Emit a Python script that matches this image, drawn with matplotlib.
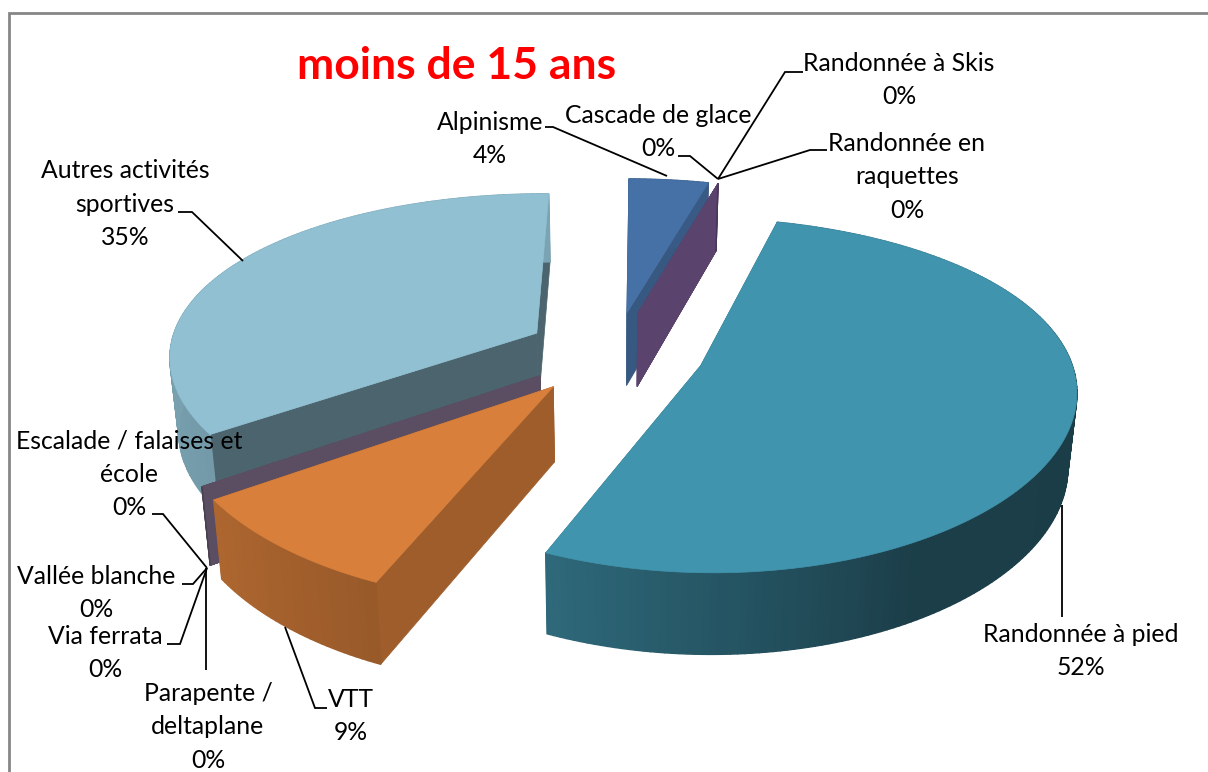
import numpy as np
import matplotlib
matplotlib.use("Agg")
import matplotlib.pyplot as plt
from matplotlib.patches import Polygon

plt.rcParams['font.family'] = ['Lato', 'DejaVu Sans']

categories = ["Randonnée à pied", "VTT", "Parapente /\ndeltaplane", "Via ferrata",
              "Vallée blanche", "Escalade / falaises et\nécole", "Autres activités\nsportives",
              "Alpinisme", "Cascade de glace", "Randonnée à Skis", "Randonnée en\nraquettes"]
values = [52.3, 8.9, 0, 0, 0, 0, 34.8, 4.0, 0, 0, 0]

top_colors = ['#4194AD', '#D87F3B', '#5C4E62', '#5C4E62', '#5C4E62', '#5C4E62',
              '#90C0D2', '#4671A6', '#5A446E', '#5A446E', '#5A446E']
cut_shade = [0.7, 0.73, 1, 1, 1, 1, 0.52, 0.78, 1, 1, 1]
explode = [0.244, 0.258, 0.244, 0.244, 0.244, 0.244, 0.244, 0.244, 0.244, 0.244, 0.244]
draw_order = [7, 8, 9, 10, 6, 2, 3, 4, 5, 1, 0]

label_x = [1081, 351, 208, 105, 96, 129, 125, 490, 658, 899, 907]
label_y = [651, 716, 727, 653, 593, 474, 204, 139, 132, 80, 177]

leaders = [
    [(1062, 505), (1062, 617)],
    [(285, 627), (315, 708), (327, 708)],
    [(206, 568), (206, 670)],
    [(207, 568), (180, 644), (167, 644)],
    [(207, 568), (193, 584), (182, 584)],
    [(207, 568), (163, 514), (152, 514)],
    [(243, 261), (192, 212), (178, 212)],
    [(667, 176), (553, 127), (545, 127)],
    [(718, 179), (690, 156), (678, 156)],
    [(718, 179), (785, 72), (803, 72)],
    [(718, 179), (810, 150), (827, 150)],
]

# pie view
cx, cy = 615, 352
R, Rz = 368, 168
persp_x, persp_y = 0.125, 0.165
depth = 74
start = 15


def project(x, y, low=False):
    p = 1 / (1 + persp_y * y)
    sx = cx + R * x / (1 + persp_x * y)
    sy = cy - Rz * y * p
    if low:
        sx = cx + (sx - cx) * 0.98
        sy = sy + depth * np.sqrt(p)
    return sx, sy


def shade(color, f):
    c = np.array(matplotlib.colors.to_rgb(color))
    return tuple(c * f)


def wall_factor(deg):
    return np.interp(deg % 360, [0, 60, 90, 150, 201, 233, 280, 360],
                     [0.8, 0.8, 0.41, 0.42, 0.70, 0.8, 0.85, 0.85])


fig = plt.figure(figsize=(12.08, 7.72), dpi=100)
ax = fig.add_axes([0, 0, 1, 1])
ax.set_xlim(0, 1208)
ax.set_ylim(772, 0)
ax.axis('off')

ax.plot([8.5, 8.5, 1208], [772, 13, 13], color='#868686', lw=2, solid_joinstyle='miter')

angles = start + np.concatenate([[0], np.cumsum(values)]) * 3.6

for i in draw_order:
    a0, a1 = angles[i], angles[i + 1]
    mid = np.radians((a0 + a1) / 2)
    ox, oy = explode[i] * np.sin(mid), explode[i] * np.cos(mid)
    col = top_colors[i]

    th = np.radians(np.linspace(a0, a1, max(2, int(a1 - a0) + 2)))
    xs = ox + np.sin(th)
    ys = oy + np.cos(th)

    # cut faces
    for a in (a0, a1):
        t = np.radians(a)
        ex, ey = ox + np.sin(t), oy + np.cos(t)
        pts = [project(ox, oy), project(ex, ey), project(ex, ey, True), project(ox, oy, True)]
        fc = shade(col, cut_shade[i])
        ax.add_patch(Polygon(pts, closed=True, fc=fc, ec=fc, lw=0.5))

    # outer wall
    for k in range(len(th) - 1):
        pts = [project(xs[k], ys[k]), project(xs[k + 1], ys[k + 1]),
               project(xs[k + 1], ys[k + 1], True), project(xs[k], ys[k], True)]
        fc = shade(col, wall_factor(np.degrees(th[k])))
        ax.add_patch(Polygon(pts, closed=True, fc=fc, ec=fc, lw=1))

    # top face
    pts = [project(ox, oy)] + [project(x, y) for x, y in zip(xs, ys)]
    ax.add_patch(Polygon(pts, closed=True, fc=col, ec=col, lw=0.5))

for line in leaders:
    ax.plot(*zip(*line), color='black', lw=1.3, solid_capstyle='butt', solid_joinstyle='miter')

for name, v, x, y in zip(categories, values, label_x, label_y):
    ax.text(x, y, f"{name}\n{round(v)}%", ha='center', va='center', fontsize=17.85,
            linespacing=1.53, color='black')

ax.text(457, 66, "moins de 15 ans", ha='center', va='center', fontsize=32,
        fontweight='bold', color='#FF0000')

fig.savefig('out.png', dpi=100)
